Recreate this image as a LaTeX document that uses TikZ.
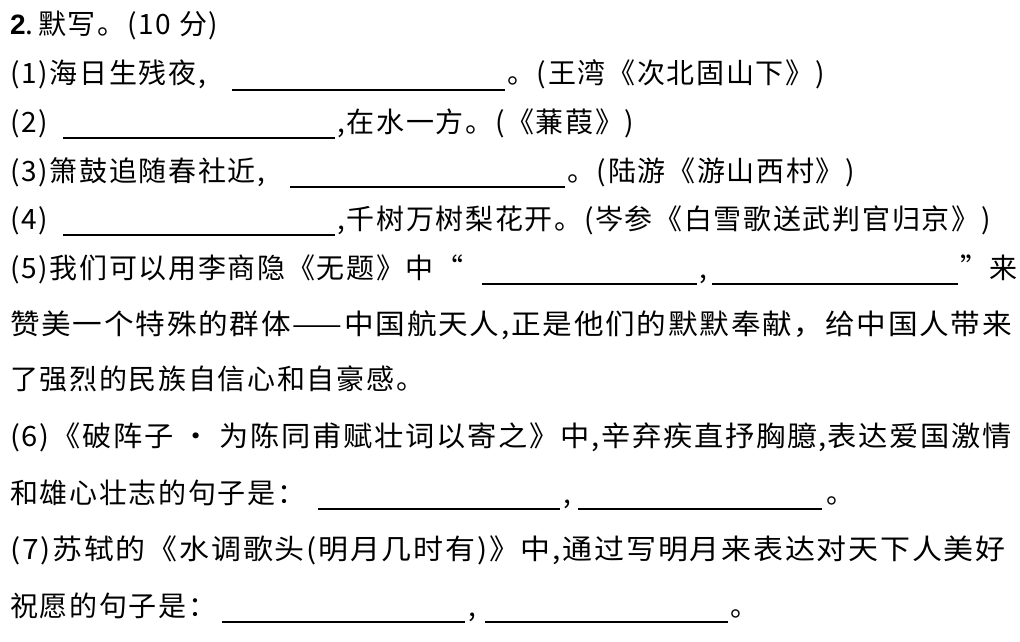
\documentclass[tikz,border=0pt]{standalone}
\usepackage{graphicx}
\usepackage{fontspec}
\setmainfont{Liberation Sans}
\newfontfamily\cjk[LetterSpace=6]{Noto Sans CJK SC}
\begin{document}
\begin{tikzpicture}[x=1pt,y=-1pt,
  t/.style={anchor=base west,inner sep=0pt,font=\cjk\fontsize{28}{28}\selectfont},
  ul/.style={line width=1.1pt}]
\useasboundingbox (0,0) rectangle (1020,642);
\node[t] (l1) at (10,35) {{\fontspec{Liberation Sans}\bfseries 2}.\,默写。(10 分)};
\node[t] (l2a) at (10,84) {(1)海日生残夜,};
\draw[ul] (232,90) -- (505,90);
\node[t] (l2b) at (507,84) {。(王湾《次北固山下》)};
\node[t] (l3a) at (10,132) {(2)};
\draw[ul] (63,138) -- (335,138);
\node[t] (l3b) at (337,132) {,在水一方。(《蒹葭》)};
\node[t] (l4a) at (10,181) {(3)箫鼓追随春社近,};
\draw[ul] (290,187) -- (565,187);
\node[t] (l4b) at (567,181) {。(陆游《游山西村》)};
\node[t] (l5a) at (10,229) {(4)};
\draw[ul] (63,235) -- (335,235);
\node[t] (l5b) at (337,229) {,千树万树梨花开。(岑参《白雪歌送武判官归京》)};
\node[t] (l6a) at (10,278) {(5)我们可以用李商隐《无题》中“};
\draw[ul] (482,284) -- (697,284);
\node[t] (l6b) at (699,278) {,};
\draw[ul] (712,284) -- (958,284);
\node[t] (l6c) at (960,278) {”来};
\node[t] (l7) at (10,334) {\scalebox{1.058}[1]{赞美一个特殊的群体——中国航天人,正是他们的默默奉献，给中国人带来}};
\node[t] (l8) at (10,389) {了强烈的民族自信心和自豪感。};
\node[t] (l9) at (10,446) {\scalebox{1.044}[1]{(6)《破阵子 · 为陈同甫赋壮词以寄之》中,辛弃疾直抒胸臆,表达爱国激情}};
\node[t] (l10a) at (10,503) {和雄心壮志的句子是：};
\draw[ul] (318,509) -- (560,509);
\node[t] (l10b) at (563,503) {,};
\draw[ul] (578,509) -- (822,509);
\node[t] (l10c) at (826,503) {。};
\node[t] (l11) at (10,559) {\scalebox{1.07}[1]{(7)苏轼的《水调歌头(明月几时有)》中,通过写明月来表达对天下人美好}};
\node[t] (l12a) at (10,616) {祝愿的句子是：};
\draw[ul] (222,622) -- (465,622);
\node[t] (l12b) at (468,616) {,};
\draw[ul] (485,622) -- (728,622);
\node[t] (l12c) at (730,616) {。};
\end{tikzpicture}
\end{document}
